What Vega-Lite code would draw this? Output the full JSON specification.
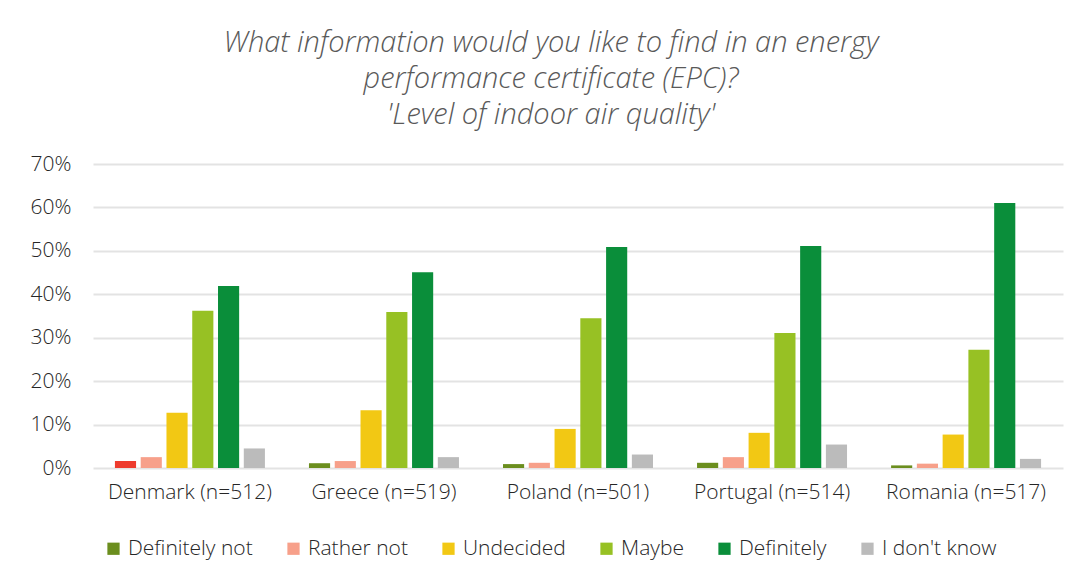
{
  "$schema": "https://vega.github.io/schema/vega-lite/v6.json",
  "width": 970,
  "height": 304,
  "autosize": {"type": "none"},
  "padding": {"left": 93, "top": 164, "right": 18, "bottom": 113},
  "background": "white",
  "title": {
    "text": ["What information would you like to find in an energy", "performance certificate (EPC)?", "'Level of indoor air quality'"],
    "font": "Open Sans",
    "fontSize": 29,
    "fontStyle": "italic",
    "fontWeight": 300,
    "color": "#595959",
    "lineHeight": 36,
    "anchor": "middle",
    "offset": 23,
    "dx": -27
  },
  "data": {
    "values": [
      {"country": "Denmark (n=512)", "answer": "Definitely not", "value": 1.6},
      {"country": "Denmark (n=512)", "answer": "Rather not", "value": 2.5},
      {"country": "Denmark (n=512)", "answer": "Undecided", "value": 12.7},
      {"country": "Denmark (n=512)", "answer": "Maybe", "value": 36.2},
      {"country": "Denmark (n=512)", "answer": "Definitely", "value": 41.9},
      {"country": "Denmark (n=512)", "answer": "I don't know", "value": 4.5},
      {"country": "Greece (n=519)", "answer": "Definitely not", "value": 1.1},
      {"country": "Greece (n=519)", "answer": "Rather not", "value": 1.6},
      {"country": "Greece (n=519)", "answer": "Undecided", "value": 13.3},
      {"country": "Greece (n=519)", "answer": "Maybe", "value": 35.9},
      {"country": "Greece (n=519)", "answer": "Definitely", "value": 45.1},
      {"country": "Greece (n=519)", "answer": "I don't know", "value": 2.5},
      {"country": "Poland (n=501)", "answer": "Definitely not", "value": 0.9},
      {"country": "Poland (n=501)", "answer": "Rather not", "value": 1.2},
      {"country": "Poland (n=501)", "answer": "Undecided", "value": 9.0},
      {"country": "Poland (n=501)", "answer": "Maybe", "value": 34.5},
      {"country": "Poland (n=501)", "answer": "Definitely", "value": 50.9},
      {"country": "Poland (n=501)", "answer": "I don't know", "value": 3.1},
      {"country": "Portugal (n=514)", "answer": "Definitely not", "value": 1.2},
      {"country": "Portugal (n=514)", "answer": "Rather not", "value": 2.5},
      {"country": "Portugal (n=514)", "answer": "Undecided", "value": 8.1},
      {"country": "Portugal (n=514)", "answer": "Maybe", "value": 31.1},
      {"country": "Portugal (n=514)", "answer": "Definitely", "value": 51.1},
      {"country": "Portugal (n=514)", "answer": "I don't know", "value": 5.4},
      {"country": "Romania (n=517)", "answer": "Definitely not", "value": 0.6},
      {"country": "Romania (n=517)", "answer": "Rather not", "value": 1.0},
      {"country": "Romania (n=517)", "answer": "Undecided", "value": 7.7},
      {"country": "Romania (n=517)", "answer": "Maybe", "value": 27.2},
      {"country": "Romania (n=517)", "answer": "Definitely", "value": 61.0},
      {"country": "Romania (n=517)", "answer": "I don't know", "value": 2.1}
    ]
  },
  "mark": {"type": "bar"},
  "encoding": {
    "x": {
      "field": "country",
      "type": "nominal",
      "sort": null,
      "scale": {"paddingInner": 0.227, "paddingOuter": 0.113},
      "axis": {
        "title": null,
        "labelAngle": 0,
        "labelFont": "Open Sans",
        "labelFontWeight": 300,
        "labelFontSize": 21,
        "labelColor": "#262626",
        "labelPadding": 13,
        "ticks": false,
        "domain": false
      }
    },
    "xOffset": {
      "field": "answer",
      "type": "nominal",
      "sort": ["Definitely not", "Rather not", "Undecided", "Maybe", "Definitely", "I don't know"],
      "scale": {"paddingInner": 0.18, "paddingOuter": 0}
    },
    "y": {
      "field": "value",
      "type": "quantitative",
      "scale": {"domain": [0, 70]},
      "axis": {
        "title": null,
        "values": [0, 10, 20, 30, 40, 50, 60, 70],
        "labelExpr": "datum.value + '%'",
        "labelFont": "Open Sans",
        "labelFontWeight": 300,
        "labelFontSize": 21,
        "labelColor": "#262626",
        "labelPadding": 22,
        "ticks": false,
        "domain": false,
        "gridColor": "#E3E3E3",
        "gridWidth": 2
      }
    },
    "color": {
      "condition": {
        "test": "datum.country === 'Denmark (n=512)' && datum.answer === 'Definitely not'",
        "value": "#EE3B2D"
      },
      "field": "answer",
      "type": "nominal",
      "sort": ["Definitely not", "Rather not", "Undecided", "Maybe", "Definitely", "I don't know"],
      "scale": {
        "domain": ["Definitely not", "Rather not", "Undecided", "Maybe", "Definitely", "I don't know"],
        "range": ["#6B8E1E", "#F7A08A", "#F2C814", "#97C124", "#0A8E3A", "#BBBBBB"]
      },
      "legend": {
        "title": null,
        "orient": "none",
        "legendX": 10,
        "legendY": 374,
        "direction": "horizontal",
        "symbolType": "square",
        "symbolSize": 150,
        "symbolStrokeWidth": 0,
        "labelFont": "Open Sans",
        "labelFontWeight": 300,
        "labelFontSize": 21,
        "labelColor": "#262626",
        "columnPadding": 30,
        "labelOffset": 4
      }
    }
  },
  "config": {
    "view": {"stroke": null}
  }
}
